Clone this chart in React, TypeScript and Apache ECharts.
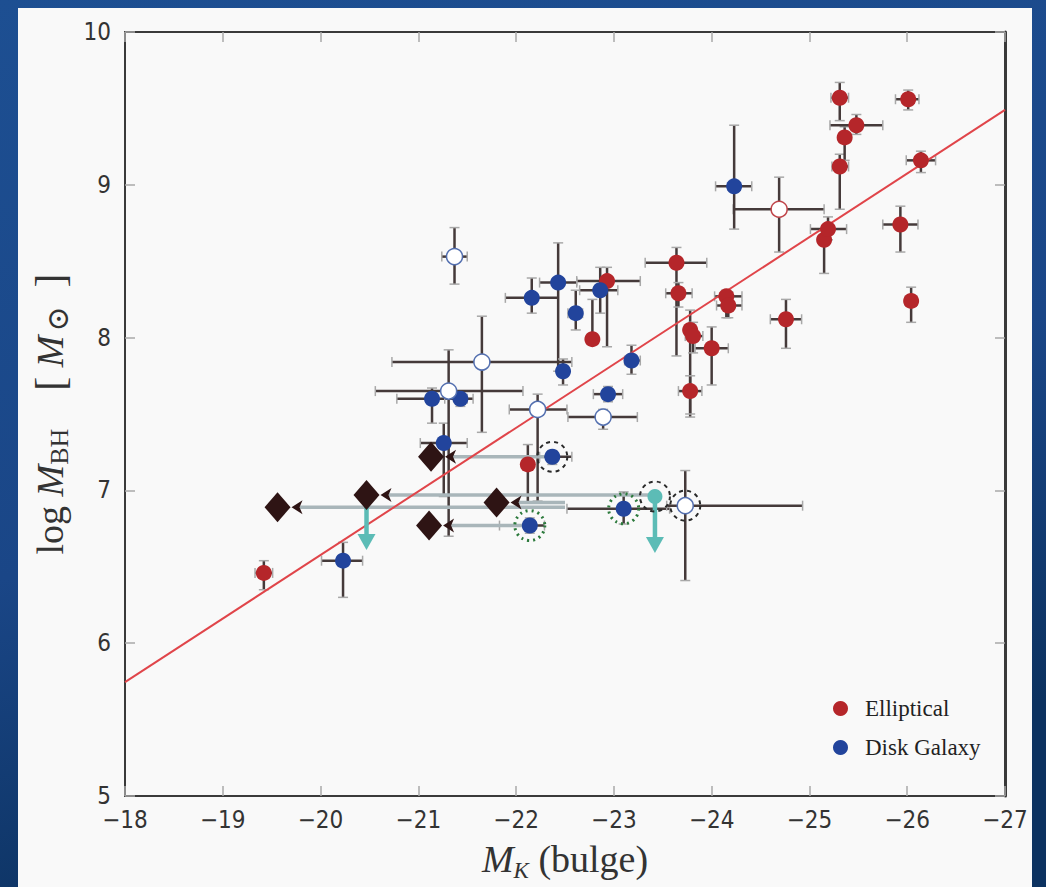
import React, { useEffect, useRef } from "react";
import * as echarts from "echarts";

// [M_K, logM, M_K left end, M_K right end, logM low, logM high]
const ellipticals: number[][] = [
  [-19.42, 6.46, -19.33, -19.51, 6.35, 6.54],
  [-22.12, 7.17, -22.07, -22.17, 6.92, 7.3],
  [-22.78, 7.99, -22.74, -22.82, 7.97, 8.25],
  [-22.93, 8.37, -22.62, -23.27, 7.94, 8.46],
  [-23.64, 8.49, -23.32, -23.95, 7.88, 8.59],
  [-23.66, 8.29, -23.53, -23.8, 8.2, 8.36],
  [-23.78, 8.05, -23.73, -23.83, 7.48, 8.18],
  [-23.81, 8.01, -23.73, -23.91, 7.9, 8.1],
  [-23.78, 7.65, -23.66, -23.9, 7.5, 7.75],
  [-24.0, 7.93, -23.83, -24.17, 7.69, 8.07],
  [-24.15, 8.27, -24.03, -24.31, 8.13, 8.31],
  [-24.17, 8.21, -24.05, -24.31, 8.13, 8.3],
  [-24.76, 8.12, -24.6, -24.92, 7.93, 8.25],
  [-25.15, 8.64, -25.1, -25.2, 8.42, 8.7],
  [-25.19, 8.71, -25.01, -25.38, 8.64, 8.79],
  [-25.31, 9.12, -25.23, -25.4, 8.84, 9.2],
  [-25.36, 9.31, -25.3, -25.42, 9.16, 9.38],
  [-25.48, 9.39, -25.21, -25.75, 9.33, 9.46],
  [-25.31, 9.57, -25.22, -25.4, 9.42, 9.67],
  [-26.01, 9.56, -25.88, -26.12, 9.49, 9.62],
  [-26.14, 9.16, -25.99, -26.29, 9.08, 9.22],
  [-25.93, 8.74, -25.75, -26.11, 8.56, 8.86],
  [-26.04, 8.24, -25.98, -26.1, 8.1, 8.33],
];
const openEllipticals: number[][] = [[-24.69, 8.84, -24.22, -25.15, 8.56, 9.05]];

const disks: number[][] = [
  [-20.23, 6.54, -20.01, -20.43, 6.3, 6.66],
  [-21.14, 7.6, -20.78, -21.5, 7.44, 7.67],
  [-21.43, 7.6, -21.27, -21.56, 7.55, 7.65],
  [-21.26, 7.31, -21.02, -21.5, 6.96, 7.44],
  [-22.16, 8.26, -21.89, -22.43, 8.16, 8.39],
  [-22.43, 8.36, -22.24, -22.62, 7.78, 8.62],
  [-22.61, 8.16, -22.53, -22.68, 8.05, 8.31],
  [-22.86, 8.31, -22.65, -23.04, 8.16, 8.46],
  [-22.48, 7.78, -22.43, -22.53, 7.69, 7.86],
  [-23.18, 7.85, -23.11, -23.27, 7.76, 7.95],
  [-22.94, 7.63, -22.79, -23.09, 7.58, 7.68],
  [-22.37, 7.22, -22.24, -22.57, 7.17, 7.26],
  [-22.14, 6.77, -21.83, -22.29, 6.72, 6.82],
  [-23.1, 6.88, -22.52, -23.57, 6.78, 6.99],
  [-24.23, 8.99, -24.04, -24.41, 8.71, 9.39],
];
const openDisks: number[][] = [
  [-21.37, 8.53, -21.24, -21.5, 8.35, 8.72],
  [-21.65, 7.84, -20.73, -22.57, 7.38, 8.14],
  [-21.31, 7.65, -20.56, -22.07, 6.7, 7.92],
  [-22.22, 7.53, -21.93, -22.52, 6.93, 7.63],
  [-22.89, 7.48, -22.53, -23.24, 7.4, 7.53],
  [-23.73, 6.9, -23.54, -24.93, 6.41, 7.13],
];

// limits: [M_K, logM, M_K end of arrow]
const limitDiamonds: number[][] = [
  [-19.56, 6.89, -22.5],
  [-20.47, 6.97, -23.47],
  [-21.13, 7.22, -22.29],
  [-21.11, 6.77, -22.14],
  [-21.8, 6.92, -22.5],
];
const cyanPoints: number[][] = [[-23.42, 6.96]];
// [M_K, logM from, logM to]
const cyanArrows: number[][] = [
  [-20.47, 6.97, 6.61],
  [-23.42, 6.96, 6.59],
];
const dashedRings: number[][] = [
  [-22.37, 7.22],
  [-23.73, 6.9],
  [-23.42, 6.96],
];
const dottedRings: number[][] = [
  [-22.14, 6.77],
  [-23.1, 6.88],
];
const fitX = [-18, -27];
const fitY = [5.745, 9.49];

const RED = "#b5262a";
const BLUE = "#22449c";
const SANS = '"DejaVu Sans Condensed", "Liberation Sans Narrow", "DejaVu Sans", sans-serif';
const SERIF = '"Liberation Serif", "DejaVu Serif", serif';

export default function App() {
  const ref = useRef<HTMLDivElement>(null);
  useEffect(() => {
    document.body.style.margin = "0";
    const chart = echarts.init(ref.current!, null, { renderer: "svg" });

    const errRender = (params: any, api: any) => {
      const y = api.value(1);
      const x = api.value(0);
      const c = api.coord([x, y]);
      const l = api.coord([api.value(2), y]);
      const r = api.coord([api.value(3), y]);
      const lo = api.coord([x, api.value(4)]);
      const hi = api.coord([x, api.value(5)]);
      const cap = 5;
      const st = { stroke: "#453a3a", lineWidth: 2.5 };
      const capSt = { stroke: "#a8a8a8", lineWidth: 1.5 };
      return {
        type: "group",
        children: [
          { type: "line", shape: { x1: l[0], y1: c[1], x2: r[0], y2: c[1] }, style: st },
          { type: "line", shape: { x1: c[0], y1: lo[1], x2: c[0], y2: hi[1] }, style: st },
          { type: "line", shape: { x1: l[0], y1: c[1] - cap, x2: l[0], y2: c[1] + cap }, style: capSt },
          { type: "line", shape: { x1: r[0], y1: c[1] - cap, x2: r[0], y2: c[1] + cap }, style: capSt },
          { type: "line", shape: { x1: c[0] - cap, y1: lo[1], x2: c[0] + cap, y2: lo[1] }, style: capSt },
          { type: "line", shape: { x1: c[0] - cap, y1: hi[1], x2: c[0] + cap, y2: hi[1] }, style: capSt },
        ],
      };
    };

    const limitRender = (params: any, api: any) => {
      const c = api.coord([api.value(0), api.value(1)]);
      const e = api.coord([api.value(2), api.value(1)]);
      const ax = c[0] + 14;
      return {
        type: "group",
        children: [
          { type: "line", shape: { x1: ax + 8, y1: c[1], x2: e[0], y2: c[1] }, style: { stroke: "#a9b6ba", lineWidth: 3.5 } },
          {
            type: "polygon",
            shape: { points: [[ax, c[1]], [ax + 11, c[1] - 7], [ax + 8, c[1]], [ax + 11, c[1] + 7]] },
            style: { fill: "#2e1414" },
          },
        ],
      };
    };

    const arrowRender = (params: any, api: any) => {
      const a = api.coord([api.value(0), api.value(1)]);
      const b = api.coord([api.value(0), api.value(2)]);
      return {
        type: "group",
        children: [
          { type: "line", shape: { x1: a[0], y1: a[1], x2: b[0], y2: b[1] - 14 }, style: { stroke: "#5cbcb6", lineWidth: 4.5 } },
          {
            type: "polygon",
            shape: { points: [[b[0] - 9, b[1] - 16], [b[0] + 9, b[1] - 16], [b[0], b[1]]] },
            style: { fill: "#5cbcb6" },
          },
        ],
      };
    };

    const xFmt = (v: number) => (v < 0 ? "\u2212" : "") + Math.abs(v);
    const tickStyle = { inside: true, length: 10, lineStyle: { color: "#a8a8a8", width: 1.5 } };
    const lineStyle = { color: "#3a3a3a", width: 2 };
    const nameRich = {
      i: { fontFamily: SERIF, fontStyle: "italic", fontSize: 38, color: "#333", lineHeight: 46 },
      s: { fontFamily: SERIF, fontSize: 26, color: "#333", verticalAlign: "bottom", lineHeight: 28 },
      o: { fontFamily: SERIF, fontSize: 30, color: "#333", verticalAlign: "bottom", lineHeight: 30, padding: [0, 0, 0, 4] },
      si: { fontFamily: SERIF, fontStyle: "italic", fontSize: 23, color: "#333", verticalAlign: "bottom", lineHeight: 26 },
      a: { fontFamily: SERIF, fontSize: 38, color: "#333", lineHeight: 46 },
      b: { fontFamily: SERIF, fontSize: 42, color: "#333", lineHeight: 46 },
    };

    const option: any = {
      animation: false,
      backgroundColor: {
        type: "linear",
        x: 0,
        y: 0,
        x2: 0.3,
        y2: 1,
        colorStops: [
          { offset: 0, color: "#1d4f92" },
          { offset: 0.6, color: "#1a4687" },
          { offset: 1, color: "#0c3260" },
        ],
      },
      graphic: [
        {
          type: "rect",
          z: -100,
          silent: true,
          shape: { x: 18, y: 8, width: 1014, height: 879 },
          style: { fill: "#f9f9f9" },
        },
      ],
      grid: { left: 125, right: 41, top: 32, bottom: 90, show: false },
      legend: {
        data: ["Elliptical", "Disk Galaxy"],
        orient: "vertical",
        left: 828,
        top: 692,
        itemWidth: 15,
        itemHeight: 15,
        itemGap: 16,
        icon: "circle",
        textStyle: { fontFamily: SERIF, fontSize: 23, color: "#222", padding: [0, 0, 0, 12] },
      },
      xAxis: [
        {
          type: "value",
          inverse: true,
          min: -27,
          max: -18,
          interval: 1,
          position: "bottom",
          axisLine: { show: true, lineStyle },
          axisTick: tickStyle,
          splitLine: { show: false },
          axisLabel: { formatter: xFmt, fontSize: 24, color: "#333", fontFamily: SANS, margin: 12 },
          name: "{i|M}{si|K}{a| (bulge)}",
          nameLocation: "middle",
          nameGap: 40,
          nameTextStyle: { fontSize: 37, fontFamily: SERIF, rich: nameRich },
        },
        {
          type: "value",
          inverse: true,
          min: -27,
          max: -18,
          interval: 1,
          position: "top",
          axisLine: { show: true, lineStyle },
          axisTick: tickStyle,
          splitLine: { show: false },
          axisLabel: { show: false },
        },
      ],
      yAxis: [
        {
          type: "value",
          min: 5,
          max: 10,
          interval: 1,
          position: "left",
          axisLine: { show: true, lineStyle },
          axisTick: tickStyle,
          splitLine: { show: false },
          axisLabel: { fontSize: 24, color: "#333", fontFamily: SANS, margin: 14 },
          name: "{a|log }{i|M}{s|BH}{a|    }{b|[}{i| M}{o|\u2299}{a|  }{b|]}",
          nameLocation: "middle",
          nameGap: 50,
          nameRotate: 90,
          nameTextStyle: { fontSize: 38, fontFamily: SERIF, rich: nameRich },
        },
        {
          type: "value",
          min: 5,
          max: 10,
          interval: 1,
          position: "right",
          axisLine: { show: true, lineStyle: { color: "#3a3a3a", width: 3 } },
          axisTick: tickStyle,
          splitLine: { show: false },
          axisLabel: { show: false },
        },
      ],
      series: [
        {
          type: "custom",
          name: "errors",
          renderItem: errRender,
          data: [...ellipticals, ...openEllipticals, ...disks, ...openDisks],
          encode: { x: 0, y: 1 },
          z: 2,
          silent: true,
        },
        {
          type: "custom",
          name: "limits",
          renderItem: limitRender,
          data: limitDiamonds,
          encode: { x: 0, y: 1 },
          z: 2,
          silent: true,
        },
        {
          type: "line",
          name: "fit",
          data: fitX.map((x, i) => [x, fitY[i]]),
          showSymbol: false,
          symbol: "none",
          lineStyle: { color: "#e0454a", width: 2 },
          z: 3,
          silent: true,
        },
        {
          type: "custom",
          name: "arrows",
          renderItem: arrowRender,
          data: cyanArrows,
          encode: { x: 0, y: 1 },
          z: 4,
          silent: true,
        },
        {
          type: "scatter",
          name: "limitMarks",
          data: limitDiamonds.map((d) => [d[0], d[1]]),
          symbol: "diamond",
          symbolSize: [26, 30],
          itemStyle: { color: "#2e1414", opacity: 1 },
          z: 5,
        },
        {
          type: "scatter",
          name: "Elliptical",
          data: ellipticals.map((d) => [d[0], d[1]]),
          symbolSize: 16,
          itemStyle: { color: RED, opacity: 1 },
          z: 5,
        },
        {
          type: "scatter",
          name: "openE",
          data: openEllipticals.map((d) => [d[0], d[1]]),
          symbolSize: 16,
          itemStyle: { color: "#ffffff", borderColor: "#c0454a", borderWidth: 1.5, opacity: 1 },
          z: 5,
        },
        {
          type: "scatter",
          name: "Disk Galaxy",
          data: disks.map((d) => [d[0], d[1]]),
          symbolSize: 16,
          itemStyle: { color: BLUE, opacity: 1 },
          z: 5,
        },
        {
          type: "scatter",
          name: "openD",
          data: openDisks.map((d) => [d[0], d[1]]),
          symbolSize: 16,
          itemStyle: { color: "#ffffff", borderColor: "#5470b0", borderWidth: 1.5, opacity: 1 },
          z: 5,
        },
        {
          type: "scatter",
          name: "cyan",
          data: cyanPoints,
          symbolSize: 15,
          itemStyle: { color: "#5cbcb6", opacity: 1 },
          z: 5,
        },
        {
          type: "scatter",
          name: "dashed",
          data: dashedRings,
          symbolSize: 30,
          itemStyle: { color: "rgba(0,0,0,0)", borderColor: "#2a2a2a", borderWidth: 2, borderType: [4, 4], opacity: 1 },
          z: 6,
          silent: true,
        },
        {
          type: "scatter",
          name: "dotted",
          data: dottedRings,
          symbolSize: 30,
          itemStyle: { color: "rgba(0,0,0,0)", borderColor: "#2c7a3c", borderWidth: 3, borderType: [2, 4], opacity: 1 },
          z: 6,
          silent: true,
        },
      ],
    };
    chart.setOption(option);
    return () => chart.dispose();
  }, []);
  return <div ref={ref} style={{ width: 1046, height: 887 }} />;
}
